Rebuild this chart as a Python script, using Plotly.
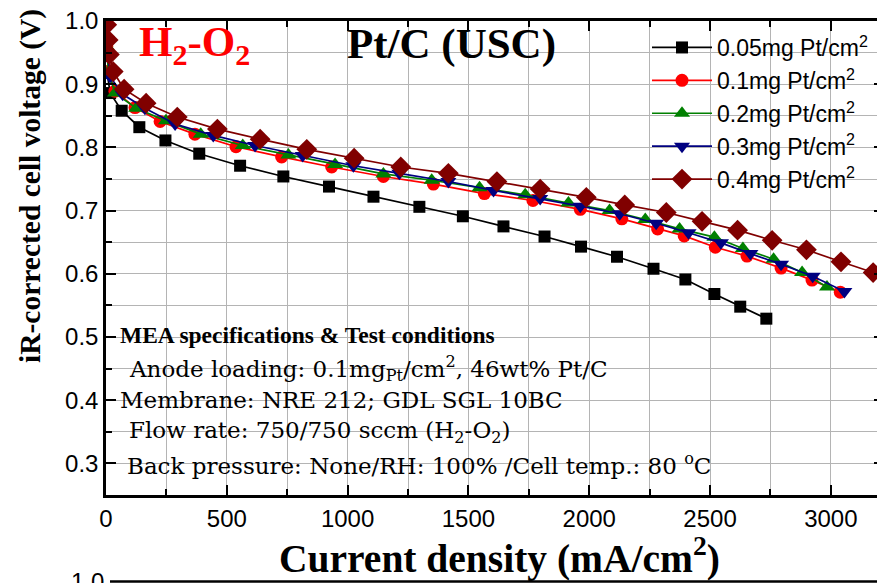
import plotly.graph_objects as go

# ---------------- data ----------------
x_005 = [4, 17, 65, 138, 246, 386, 555, 734, 923, 1107, 1297, 1477, 1645, 1815, 1966, 2115, 2266, 2398, 2518, 2625, 2733]
v_005 = [0.92, 0.886, 0.858, 0.832, 0.811, 0.790, 0.771, 0.754, 0.738, 0.722, 0.706, 0.691, 0.675, 0.659, 0.643, 0.627, 0.608, 0.591, 0.568, 0.548, 0.529]

x_01 = [3, 10, 37, 120, 224, 368, 538, 727, 934, 1148, 1355, 1566, 1767, 1963, 2135, 2283, 2393, 2522, 2653, 2794, 2922, 3039]
v_01 = [0.96, 0.92, 0.889, 0.863, 0.841, 0.821, 0.801, 0.785, 0.769, 0.754, 0.742, 0.727, 0.716, 0.702, 0.687, 0.671, 0.660, 0.642, 0.628, 0.609, 0.590, 0.571]

x_02 = [3, 10, 37, 125, 248, 392, 566, 755, 948, 1148, 1348, 1546, 1735, 1914, 2084, 2232, 2374, 2518, 2636, 2763, 2881, 2984]
v_02 = [0.96, 0.92, 0.886, 0.862, 0.842, 0.821, 0.803, 0.788, 0.773, 0.758, 0.748, 0.736, 0.725, 0.712, 0.700, 0.686, 0.671, 0.658, 0.640, 0.623, 0.602, 0.579]

x_03 = [3, 8, 17, 69, 161, 286, 444, 617, 814, 1024, 1214, 1417, 1604, 1797, 1963, 2126, 2277, 2411, 2545, 2667, 2794, 2925, 3056]
v_03 = [0.97, 0.944, 0.912, 0.884, 0.862, 0.837, 0.819, 0.803, 0.787, 0.771, 0.759, 0.746, 0.732, 0.719, 0.707, 0.695, 0.680, 0.665, 0.649, 0.632, 0.615, 0.596, 0.572]

x_04 = [3, 9, 14, 30, 75, 166, 295, 461, 638, 831, 1027, 1220, 1417, 1618, 1797, 1988, 2147, 2319, 2467, 2614, 2757, 2899, 3042, 3175]
v_04 = [0.994, 0.970, 0.947, 0.920, 0.892, 0.870, 0.848, 0.829, 0.813, 0.797, 0.783, 0.769, 0.759, 0.746, 0.734, 0.721, 0.709, 0.697, 0.683, 0.669, 0.653, 0.638, 0.619, 0.602]

series_names = ["0.05mg Pt/cm<sup>2</sup>", "0.1mg Pt/cm<sup>2</sup>", "0.2mg Pt/cm<sup>2</sup>",
                "0.3mg Pt/cm<sup>2</sup>", "0.4mg Pt/cm<sup>2</sup>"]

x_ticks = [0, 500, 1000, 1500, 2000, 2500, 3000]
y_ticks = [0.3, 0.4, 0.5, 0.6, 0.7, 0.8, 0.9, 1.0]

info_lines = [
    "<b>MEA specifications & Test conditions</b>",
    "Anode loading: 0.1mg<sub>Pt</sub>/cm<sup>2</sup>, 46wt% Pt/C",
    "Membrane: NRE 212; GDL SGL 10BC",
    "Flow rate: 750/750 sccm (H<sub>2</sub>-O<sub>2</sub>)",
    "Back pressure: None/RH: 100% /Cell temp.: 80 <sup>o</sup>C",
]

# ---------------- figure ----------------
# The page body has an 8px margin, so the figure is laid out 8px up/left.
OFF = 8
W, H = 885, 583
ML, MR, MT, MB = 106 - OFF, 1 + OFF, 21 - OFF, 88 + OFF
PW, PH = W - ML - MR, H - MT - MB


def px2paper_x(px):  # page pixel -> paper coordinate
    return (px - OFF - ML) / PW


def px2paper_y(py):
    return (H - MB - (py - OFF)) / PH


styles = [
    dict(color="#000000", symbol="square", size=12),
    dict(color="#FF0000", symbol="circle", size=13),
    dict(color="#008000", symbol="triangle-up", size=14),
    dict(color="#000080", symbol="triangle-down", size=14),
    dict(color="#800000", symbol="diamond", size=16),
]
xs = [x_005, x_01, x_02, x_03, x_04]
vs = [v_005, v_01, v_02, v_03, v_04]

fig = go.Figure()
for name, x, v, st in zip(series_names, xs, vs, styles):
    fig.add_trace(go.Scatter(
        x=x, y=v, name=name, mode="lines+markers",
        line=dict(color=st["color"], width=1.7),
        marker=dict(symbol=st["symbol"], size=st["size"], color=st["color"],
                    line=dict(width=0)),
    ))

GRID = "#b4b4b4"

fig.update_xaxes(
    range=[0, 3220], tickmode="array", tickvals=x_ticks, ticktext=[str(t) for t in x_ticks],
    ticks="inside", ticklen=10, tickwidth=2, tickcolor="black",
    showline=True, linecolor="black", linewidth=2.5, mirror="ticks",
    tickfont=dict(family="Liberation Sans, Arial", size=24, color="black"),
    ticklabeloverflow="allow",
    showgrid=True, gridcolor=GRID, gridwidth=1,
    minor=dict(tickmode="linear", tick0=0, dtick=250, ticks="inside", ticklen=6, tickwidth=1.5,
               tickcolor="black", showgrid=True, gridcolor=GRID, gridwidth=1),
    zeroline=False, automargin=False,
)
fig.update_yaxes(
    range=[0.25, 1.0], tickmode="array", tickvals=y_ticks, ticktext=[f"{t:.1f}" for t in y_ticks],
    ticks="inside", ticklen=10, tickwidth=2, tickcolor="black",
    showline=True, linecolor="black", linewidth=2.5, mirror="ticks",
    tickfont=dict(family="Liberation Sans, Arial", size=24, color="black"),
    ticklabeloverflow="allow",
    showgrid=True, gridcolor=GRID, gridwidth=1,
    minor=dict(tickmode="linear", tick0=0.25, dtick=0.05, ticks="inside", ticklen=6, tickwidth=1.5,
               tickcolor="black", showgrid=True, gridcolor=GRID, gridwidth=1),
    zeroline=False, automargin=False,
)

shapes = [dict(type="line", xref="paper", yref="paper",
               x0=px2paper_x(110), x1=1.02, y0=px2paper_y(581.5), y1=px2paper_y(581.5),
               line=dict(color="black", width=2.5))]

annotations = [
    dict(x=px2paper_x(31), y=px2paper_y(186), xref="paper", yref="paper",
         text="<b>iR-corrected cell voltage (V)</b>", textangle=-90, showarrow=False,
         font=dict(family="Liberation Serif", size=29.5, color="black"),
         xanchor="center", yanchor="middle"),
    dict(x=px2paper_x(499), y=px2paper_y(555), xref="paper", yref="paper",
         text="<b>Current density (mA/cm<sup>2</sup>)</b>", showarrow=False,
         font=dict(family="Liberation Serif", size=39.5, color="black"),
         xanchor="center", yanchor="middle"),
    dict(x=px2paper_x(137), y=px2paper_y(45), xref="paper", yref="paper",
         text="<b>H<sub>2</sub>-O<sub>2</sub></b>", showarrow=False,
         font=dict(family="Liberation Serif", size=43, color="#FF0000"),
         xanchor="left", yanchor="middle"),
    dict(x=px2paper_x(451), y=px2paper_y(44), xref="paper", yref="paper",
         text="<b>Pt/C (USC)</b>", showarrow=False,
         font=dict(family="Liberation Serif", size=43, color="black"),
         xanchor="center", yanchor="middle"),
    dict(x=px2paper_x(87), y=px2paper_y(581), xref="paper", yref="paper",
         text="1.0", showarrow=False,
         font=dict(family="Liberation Sans, Arial", size=24, color="black"),
         xanchor="center", yanchor="middle"),
]
info_x = [118, 127, 118, 127, 125]
info_y = [335, 368, 400, 432, 464]
info_font = [dict(family="Liberation Serif", size=23.5, color="black")] + \
            [dict(family="DejaVu Serif", size=23, color="black")] * 4
for txt, ix, iy, fnt in zip(info_lines, info_x, info_y, info_font):
    annotations.append(dict(
        x=px2paper_x(ix), y=px2paper_y(iy), xref="paper", yref="paper",
        text=txt, showarrow=False, xanchor="left", yanchor="middle", font=fnt))

fig.update_layout(
    width=W, height=H,
    margin=dict(l=ML, r=MR, t=MT, b=MB, pad=0, autoexpand=False),
    plot_bgcolor="white", paper_bgcolor="white",
    showlegend=True,
    legend=dict(x=px2paper_x(647), y=px2paper_y(26), xanchor="left", yanchor="top",
                bgcolor="rgba(255,255,255,0)", borderwidth=0,
                font=dict(family="Liberation Sans, Arial", size=23, color="black"),
                itemwidth=60, tracegroupgap=0),
    annotations=annotations,
    shapes=shapes,
)

fig.write_html("out.html")
